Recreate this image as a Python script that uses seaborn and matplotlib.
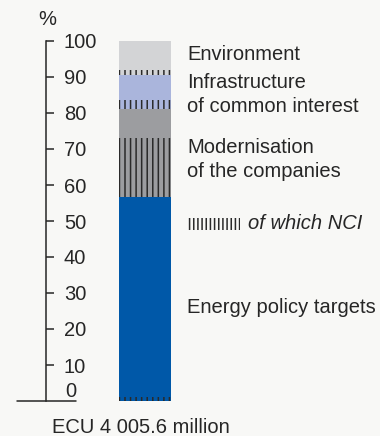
import matplotlib
matplotlib.use("Agg")
import matplotlib.pyplot as plt
from matplotlib.patches import Rectangle
import seaborn as sns
import pandas as pd

# Shares of total lending (%), each category split into NCI part (bottom) and the rest
categories = ["Energy policy targets", "Modernisation\nof the companies",
              "Infrastructure\nof common interest", "Environment"]
nci_share = [1.0, 16.2, 2.5, 1.3]
other_share = [55.8, 8.1, 7.0, 8.1]
colors = ["#0058a8", "#9c9da0", "#aab5dc", "#d3d4d6"]
total_label = "ECU 4 005.6 million"
y_ticks = [10, 20, 30, 40, 50, 60, 70, 80, 90, 100]

# baseline of the last line of each annotation (in % units)
label_y = [24.5, 62.3, 80.4, 94.7]

BG = "#f8f8f6"
INK = "#262626"
HATCH = "#2a2a2a"
FS = 14.5

sns.set_theme(style="white")
plt.rcParams["font.family"] = ["Liberation Sans", "DejaVu Sans"]
plt.rcParams["hatch.linewidth"] = 1.1
plt.rcParams["hatch.color"] = HATCH

# stacked segments, bottom to top
rows = []
cum = 0.0
for cat, n, o, c in zip(categories, nci_share, other_share, colors):
    cum += n
    rows.append({"segment": cat + " NCI", "top": cum, "color": c, "hatch": True})
    cum += o
    rows.append({"segment": cat, "top": cum, "color": c, "hatch": False})
seg = pd.DataFrame(rows)

fig = plt.figure(figsize=(3.8, 4.36), dpi=100)
fig.patch.set_facecolor(BG)
W, H = 380, 436
y0_px, y100_px = 401, 41
ax = fig.add_axes([0, (H - y0_px) / H, 1, (y0_px - y100_px) / H])
ax.set_facecolor(BG)

# draw from the tallest cumulative bar down so lower segments cover upper ones
for _, r in seg.iloc[::-1].iterrows():
    sns.barplot(x=["total"], y=[r["top"]], color=r["color"], width=0.8,
                saturation=1, ax=ax,
                hatch="|||" if r["hatch"] else None,
                edgecolor=HATCH if r["hatch"] else r["color"], linewidth=0)

px_per_unit = 52 / 0.8
center_px = 145
ax.set_xlim(-center_px / px_per_unit, (W - center_px) / px_per_unit)
ax.set_ylim(0, 100)
ax.set_xlabel("")
ax.set_ylabel("")
ax.set_xticks([])

# percentage scale: spine at x=46 px with ticks and labels on its right side
for s in ["left", "top", "bottom"]:
    ax.spines[s].set_visible(False)
sp = ax.spines["right"]
sp.set_visible(True)
sp.set_position(("axes", 46 / W))
sp.set_color(INK)
sp.set_linewidth(1.1)
ax.yaxis.tick_right()
ax.set_yticks(y_ticks)
ax.set_yticklabels([str(t) for t in y_ticks])
ax.tick_params(axis="y", direction="out", length=5.8, width=1.1, color=INK,
               pad=7.0, labelsize=FS, labelcolor=INK)
ax.axhline(0, xmin=17 / W, xmax=76 / W, color=INK, lw=1.1, clip_on=False)

tr = ax.get_yaxis_transform()
ax.text(65 / W, 1.1, "0", transform=tr, fontsize=FS, color=INK,
        ha="left", va="baseline")
ax.text(47 / W, 104.4, "%", transform=tr, fontsize=FS, color=INK,
        ha="center", va="baseline", clip_on=False)
ax.text(52 / W, -8.8, total_label, transform=tr, fontsize=FS, color=INK,
        ha="left", va="baseline", clip_on=False)

# category labels
for cat, yl in zip(categories, label_y):
    ax.text(187 / W, yl, cat, transform=tr, fontsize=FS, color=INK,
            ha="left", va="baseline", linespacing=1.3)

# NCI key
ax.add_patch(Rectangle((187 / W, 47.5), 53 / W, 3.3, transform=tr,
                       facecolor="none", edgecolor=HATCH, linewidth=0,
                       hatch="||||", clip_on=False))
ax.text(248 / W, 47.8, "of which NCI", transform=tr, fontsize=FS,
        color=INK, style="italic", ha="left", va="baseline")

fig.savefig("out.png", dpi=100, facecolor=BG)
